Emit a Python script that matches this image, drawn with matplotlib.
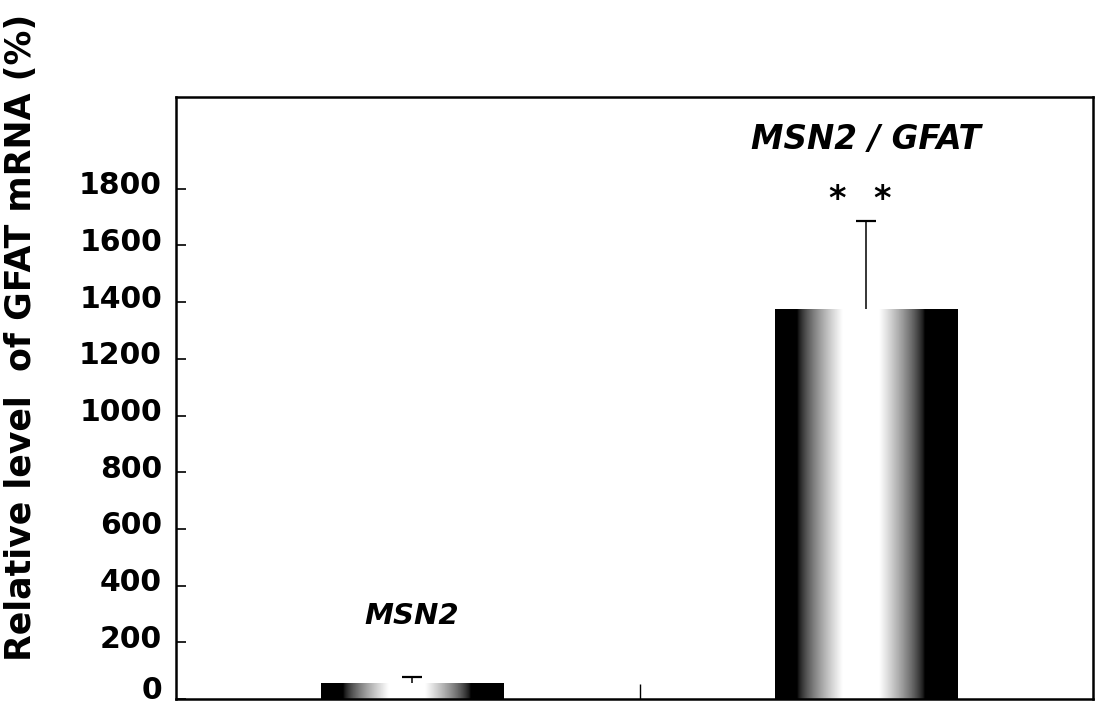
import numpy as np
import matplotlib.pyplot as plt
from matplotlib.transforms import ScaledTranslation

# Data
groups = ["MSN2", "MSN2 / GFAT"]
values = [55, 1375]
errors = [23, 310]
yticks = [0, 200, 400, 600, 800, 1000, 1200, 1400, 1600, 1800]
label_y = [293, 1973]
star_y = 1776

plt.rcParams['font.family'] = ['DejaVu Sans']

fig = plt.figure(figsize=(10.99, 7.07), dpi=100)
ax = fig.add_axes([0.160, 0.0113, 0.8345, 0.852])

x = np.array([0.515, 1.505])
bars = ax.bar(x, values, width=0.397, facecolor="none", edgecolor="none", zorder=2)

# cylinder-like shading: dark edges, light middle
t = np.linspace(0, 1, 300)
d = np.abs(t - 0.47)
shade = np.clip((0.35 - d) / 0.25, 0, 1) ** 0.7
grad = np.tile(shade, (2, 1))
for b in bars:
    im = ax.imshow(grad, cmap="gray", vmin=0, vmax=1, aspect="auto",
                   extent=(b.get_x(), b.get_x() + b.get_width(), 0, b.get_height()),
                   interpolation="bilinear", zorder=2)
    im.set_clip_path(b)

eb = ax.errorbar(x, values, yerr=[[0, 0], errors], fmt="none", ecolor="black",
                 elinewidth=1.1, capsize=7, capthick=1.6, zorder=3)
eb[1][0].set_visible(False)  # only upper caps

ax.set_xlim(0, 2)
ax.set_ylim(0, 2125)
ax.set_yticks(yticks)
ax.set_yticklabels([str(v) for v in yticks], fontsize=21.5, fontweight="bold")
ax.set_xticks([1.012])
ax.set_xticklabels([""])
ax.tick_params(axis="y", direction="in", length=7, width=1.2, pad=10)
ax.tick_params(axis="x", direction="in", length=11, width=1.0)
# tick labels sit a little above their ticks (the 0 a bit more, as in the original)
for i, lab in enumerate(ax.get_yticklabels()):
    up = 12 if i == 0 else 6
    lab.set_transform(lab.get_transform() + ScaledTranslation(0, up / 100, fig.dpi_scale_trans))
for s in ax.spines.values():
    s.set_linewidth(1.8)

for xi, ly, g, fs in zip(x, label_y, groups, [21, 23.5]):
    ax.text(xi, ly, g, ha="center", va="center", fontsize=fs,
            fontweight="bold", fontstyle="italic")
for dx in [-0.063, 0.035]:
    ax.text(x[1] + dx, star_y, "*", ha="center", va="center_baseline",
            fontsize=24, fontweight="bold")

fig.text(0.019, 0.523, "Relative level  of GFAT mRNA (%)", rotation=90,
         ha="center", va="center", fontsize=25, fontweight="bold")

fig.savefig("out.png", dpi=100)
